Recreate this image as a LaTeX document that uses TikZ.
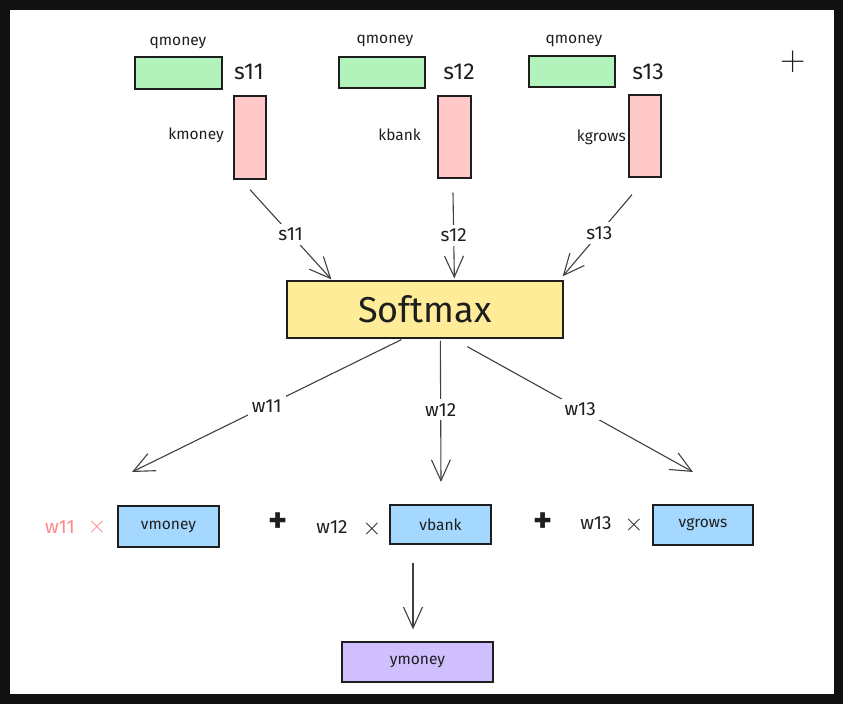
\documentclass[tikz,border=0pt]{standalone}
\usepackage{fontspec}
\setmainfont{Fira Sans}
\newfontfamily\lmthin{Latin Modern Roman}
\usetikzlibrary{arrows.meta,calc}
\definecolor{ink}{HTML}{1E1E1E}
\definecolor{qgreen}{HTML}{B2F2BB}
\definecolor{kpink}{HTML}{FFC9C9}
\definecolor{syellow}{HTML}{FFEC99}
\definecolor{vblue}{HTML}{A5D8FF}
\definecolor{ypurple}{HTML}{D0BFFF}
\definecolor{redtxt}{HTML}{FF8787}
\definecolor{frame}{HTML}{111111}
\begin{document}
\begin{tikzpicture}[x=1pt,y=-1pt,
  box/.style={draw=ink, line width=1.3pt, inner sep=0pt},
  small/.style={font=\fontsize{15.5}{15.5}\selectfont, text=ink, inner sep=0pt},
  big/.style={font=\fontsize{23}{23}\selectfont, text=ink, inner sep=0pt},
  mid/.style={font=\fontsize{19}{19}\selectfont, text=ink, inner sep=0pt},
  times/.style={font=\fontsize{26}{26}\selectfont\lmthin, inner sep=0pt},
  lbl/.style={fill=white, inner sep=4pt, font=\fontsize{19}{19}\selectfont, text=ink},
  arr/.style={draw=ink!85, line width=1.1pt, -{Straight Barb[length=21pt,width=19pt,line width=1.1pt]}},
  plusb/.style={font=\fontsize{36}{36}\selectfont\bfseries, text=ink, inner sep=0pt}
]
\fill[frame] (0,0) rectangle (843,704);
\fill[white] (10,10) rectangle (834,694);
\useasboundingbox (0,0) rectangle (843,704);

% q boxes
\node[box, fill=qgreen, minimum width=87pt, minimum height=32pt] (q1) at (178.5,73) {};
\node[box, fill=qgreen, minimum width=86pt, minimum height=31pt] (q2) at (382,72.5) {};
\node[box, fill=qgreen, minimum width=86pt, minimum height=31pt] (q3) at (572,71.5) {};
\node[small] (tq1) at (178,43) {qmoney};
\node[small] (tq2) at (385,41) {qmoney};
\node[small] (tq3) at (574,41) {qmoney};
\node[big] (s11) at (249,72) {s11};
\node[big] (s12) at (459,72) {s12};
\node[big] (s13) at (648,72) {s13};
\node[font=\fontsize{35}{35}\selectfont\lmthin, text=ink, inner sep=0pt] (plus0) at (793,62) {+};

% k boxes
\node[box, fill=kpink, minimum width=32pt, minimum height=83pt] (k1) at (250,137.5) {};
\node[box, fill=kpink, minimum width=33pt, minimum height=82pt] (k2) at (454.5,137) {};
\node[box, fill=kpink, minimum width=32pt, minimum height=82pt] (k3) at (645,136) {};
\node[small, anchor=east] (tk1) at (224,135) {kmoney};
\node[small, anchor=east] (tk2) at (421,135) {kbank};
\node[small, anchor=east] (tk3) at (626,137) {kgrows};

% softmax
\node[box, fill=syellow, minimum width=276pt, minimum height=57pt,
      font=\fontsize{36}{36}\selectfont, text=ink] (sm) at (425,309.5) {Softmax};

% arrows into softmax
\coordinate (a1) at ($(k1.south)+(0,10)$);
\coordinate (a2) at ($(k2.south)+(-1.5,14)$);
\coordinate (a3) at ($(k3.south)+(-13,17)$);
\draw[arr] (a1) -- node[lbl, pos=0.5] {s11} ($(sm.north west)+(45,-1)$);
\draw[arr] (a2) -- node[lbl, pos=0.5] {s12} ($(sm.north west)+(168,-2)$);
\draw[arr] (a3) -- node[lbl, pos=0.47] {s13} ($(sm.north east)+(-1,-4)$);

% arrows out of softmax
\coordinate (t1) at (132,472);
\coordinate (t2) at (441,482);
\coordinate (t3) at (693,472);
\draw[arr] ($(sm.south west)+(115,1)$) -- node[lbl, pos=0.5] {w11} (t1);
\draw[arr] ($(sm.south west)+(154,2)$) -- node[lbl, pos=0.49] {w12} (t2);
\draw[arr] ($(sm.south west)+(181,8)$) -- node[lbl, pos=0.5] {w13} (t3);

% v boxes
\node[box, fill=vblue, minimum width=101pt, minimum height=41pt, small] (v1) at (168.5,526.5) {vmoney};
\node[box, fill=vblue, minimum width=101pt, minimum height=39pt, small] (v2) at (440.5,524.5) {vbank};
\node[box, fill=vblue, minimum width=100pt, minimum height=40pt, small] (v3) at (703,525) {vgrows};

\node[mid, text=redtxt] (w11r) at (60,527) {w11};
\node[times, text=redtxt] (x1) at (97,527) {×};
\node[plusb] (p1) at (278,523) {+};
\node[mid] (w12t) at (332,527) {w12};
\node[times, text=ink] (x2) at (372,529) {×};
\node[plusb] (p2) at (543,523) {+};
\node[mid] (w13t) at (596,523) {w13};
\node[times, text=ink] (x3) at (634,525) {×};

% y box
\node[box, fill=ypurple, minimum width=151pt, minimum height=40pt, small] (ym) at (417.5,662) {ymoney};
\draw[arr] ($(v2.south)+(-27.5,18)$) -- ($(ym.north)+(-4.5,-12)$);
\end{tikzpicture}
\end{document}
